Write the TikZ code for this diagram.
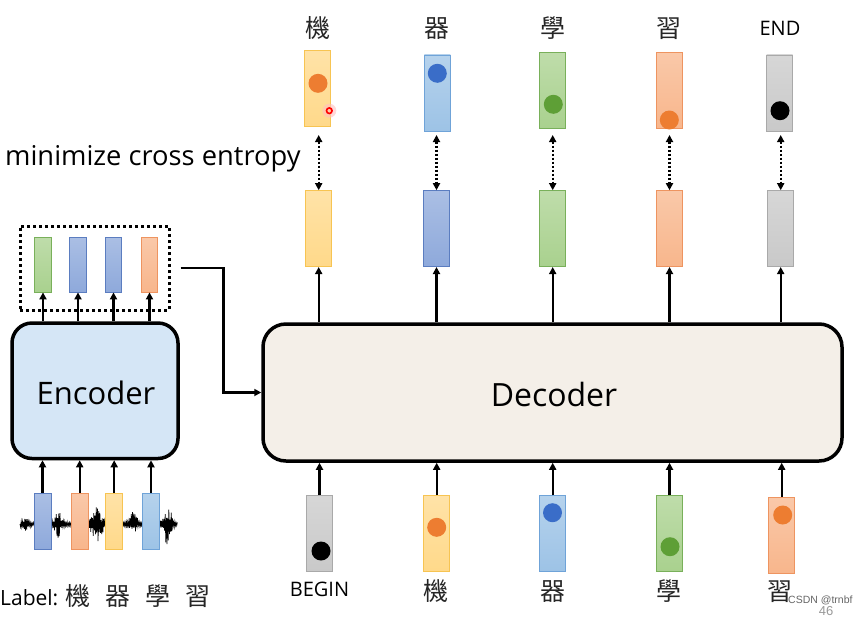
\documentclass[tikz,border=0pt]{standalone}
\usepackage{fontspec}
\setmainfont{Open Sans}
\newfontfamily\cjk{Noto Sans CJK TC}
\newfontfamily\wmfont{Liberation Sans}
\usetikzlibrary{arrows.meta}
\definecolor{yelF}{HTML}{FFD98A}\definecolor{yelD}{HTML}{F7C452}
\definecolor{lbF}{HTML}{9DC3E6}\definecolor{lbD}{HTML}{6FA3D8}
\definecolor{dbF}{HTML}{8EA9DB}\definecolor{dbD}{HTML}{5B7DC0}
\definecolor{grF}{HTML}{A9D18E}\definecolor{grD}{HTML}{79B05A}
\definecolor{orF}{HTML}{F8B68C}\definecolor{orD}{HTML}{EE9460}
\definecolor{gyF}{HTML}{C9C9C9}\definecolor{gyD}{HTML}{A9A9A9}
\definecolor{dOr}{HTML}{ED7D31}\definecolor{dBl}{HTML}{3A6DC8}
\definecolor{dGr}{HTML}{5E9F36}
\definecolor{encF}{HTML}{D5E6F6}\definecolor{decF}{HTML}{F4EFE8}
\begin{document}
\begin{tikzpicture}[x=1pt,y=-1pt,
  vbox/.style={draw, line width=0.8pt, minimum width=26pt, minimum height=76pt, inner sep=0pt},
  ebox/.style={vbox, minimum width=17pt, minimum height=56pt},
  yel/.style={draw=yelD, top color=yelF!75!white, bottom color=yelF},
  lb/.style={draw=lbD, top color=lbF!75!white, bottom color=lbF},
  db/.style={draw=dbD, top color=dbF!75!white, bottom color=dbF},
  gr/.style={draw=grD, top color=grF!75!white, bottom color=grF},
  orn/.style={draw=orD, top color=orF!75!white, bottom color=orF},
  gy/.style={draw=gyD, top color=gyF!75!white, bottom color=gyF},
  arr/.style={line width=2.4pt, -{Triangle[length=7pt,width=7pt]}},
  dbl/.style={line width=2.4pt, dash pattern=on 2pt off 2pt, {Triangle[length=7pt,width=7pt]}-{Triangle[length=7pt,width=7pt]}},
  big/.style={draw=black, line width=3.5pt, inner sep=0pt},
  lab/.style={font=\fontsize{20}{20}\selectfont, anchor=base, inner sep=0pt},
  clab/.style={font=\cjk\fontsize{25}{25}\selectfont, anchor=base, inner sep=0pt, text=black!85},
  declare function={env(\x)=2.5+5*max(0,1-abs(\x-26)/6)+12*max(0,1-abs(\x-58)/7)+19*max(0,1-abs(\x-97)/9)+10*max(0,1-abs(\x-133)/7)+19*max(0,1-abs(\x-167)/8);}
]
\useasboundingbox (0,0) rectangle (867,619);
\fill[white] (0,0) rectangle (867,619);

% ---------- waveform ----------
\pgfmathsetseed{11}
\draw[black, line width=0.7pt] (20,524) \foreach \i in {1,...,260}{ -- ({20+0.605*\i},{524+(2*mod(\i,2)-1)*(0.3+0.7*rnd)*env(20+0.605*\i)}) };

% ---------- encoder ----------
\node[big, fill=encF, rounded corners=20pt, minimum width=166pt, minimum height=135.5pt] (enc) at (95,390.75) {};
\node[font=\fontsize{31}{31}\selectfont, anchor=base] (enctxt) at (96,404) {Encoder};

\node[ebox, db] (n1) at (42.5,521.2) {};
\node[ebox, orn] (n2) at (79.7,521.2) {};
\node[ebox, yel] (n3) at (114.2,521.2) {};
\node[ebox, lb] (n4) at (151,521.2) {};
\foreach \k in {1,...,4}{ \draw[arr] (n\k.north) -- (n\k.north |- enc.south); }

\node[ebox, gr, minimum width=16.5pt, minimum height=55pt] (e1) at (43,264.5) {};
\node[ebox, db, minimum width=16.5pt, minimum height=55pt] (e2) at (78,264.5) {};
\node[ebox, db, minimum width=16.5pt, minimum height=55pt] (e3) at (113.5,264.5) {};
\node[ebox, orn, minimum width=16.5pt, minimum height=55pt] (e4) at (149.5,264.5) {};
\foreach \k in {1,...,4}{ \draw[arr] (e\k.south |- enc.north) -- (e\k.south); }

\node[draw=black, line width=3pt, dash pattern=on 3pt off 3pt, minimum width=149pt, minimum height=84pt, inner sep=0pt] (dbox) at (94.5,268) {};

% ---------- decoder ----------
\node[big, fill=decF, rounded corners=23pt, minimum width=579pt, minimum height=137pt] (dec) at (552.5,392.5) {};
\node[font=\fontsize{32}{32}\selectfont, anchor=base] (dectxt) at (554,406) {Decoder};

\draw[arr] ([xshift=10pt]dbox.east) -- ++(43,0) coordinate (bend) |- (dec.west);

% ---------- decoder outputs ----------
\node[vbox, yel] (o1) at (318.7,228.6) {};
\node[vbox, db]  (o2) at (436.5,228.6) {};
\node[vbox, gr]  (o3) at (552.7,228.6) {};
\node[vbox, orn] (o4) at (669.5,228.6) {};
\node[vbox, gy]  (o5) at (780.7,228.6) {};
\foreach \k in {1,...,5}{ \draw[arr] (o\k.south |- dec.north) -- (o\k.south); }

% ---------- targets ----------
\node[vbox, yel] (p1) at (317.5,88.7) {};
\node[vbox, lb]  (p2) at (437.3,92.9) {};
\node[vbox, gr]  (p3) at (552.7,90.5) {};
\node[vbox, orn] (p4) at (669.5,90.3) {};
\node[vbox, gy]  (p5) at (779.7,92.9) {};
\fill[dOr] (318,83.3) circle (9.5);
\fill[dBl] (437.3,73.3) circle (9.5);
\fill[dGr] (553.3,104.3) circle (9.5);
\fill[dOr] (669.3,120) circle (9.5);
\fill[black] (780,110.7) circle (9.5);
\foreach \k in {1,...,5}{ \draw[dbl] (o\k.north |- 0,135) -- (o\k.north); }

% cursor mark
\fill[red!25, opacity=0.6] (329.3,110.7) circle (7);
\draw[red, line width=1.6pt] (329.3,110.7) circle (2.8);

\node[clab] (t1) at (318,37) {機};
\node[clab] (t2) at (437,37) {器};
\node[clab] (t3) at (553,37) {學};
\node[clab] (t4) at (669,37) {習};
\node[lab] (t5) at (780,35) {END};

\node[font=\fontsize{27.3}{27.3}\selectfont, anchor=base west, inner sep=0pt] (mce) at (5,165) {minimize cross entropy};

% ---------- decoder inputs ----------
\node[vbox, gy]  (i1) at (319.5,533.5) {};
\node[vbox, yel] (i2) at (436.7,533.5) {};
\node[vbox, lb]  (i3) at (552.7,533.5) {};
\node[vbox, gr]  (i4) at (669.5,533.5) {};
\node[vbox, orn] (i5) at (781.7,535.3) {};
\fill[black] (321,551) circle (9.5);
\fill[dOr] (436.7,527.3) circle (9.5);
\fill[dBl] (552.5,512.7) circle (9.5);
\fill[dGr] (670,546.7) circle (9.5);
\fill[dOr] (782.7,515) circle (9.5);
\foreach \k in {1,...,5}{ \draw[arr] (i\k.north) -- (i\k.north |- dec.south); }

\node[lab] (b1) at (319.5,596.7) {BEGIN};
\node[clab] (b2) at (436,600) {機};
\node[clab] (b3) at (553,600) {器};
\node[clab] (b4) at (669,600) {學};
\node[clab] (b5) at (780,600) {習};

\node[anchor=base west, inner sep=0pt] (lbl) at (0,605) {\fontsize{21}{21}\selectfont Label: {\cjk\fontsize{25}{25}\selectfont\color{black!85}機\hspace{15pt}器\hspace{15pt}學\hspace{15pt}習}};

% watermark
\node[font=\wmfont\fontsize{13}{13}\selectfont, text=black!40, anchor=base, inner sep=0pt] (pg) at (826,615) {46};
\node[font=\wmfont\fontsize{10.5}{10.5}\selectfont, text=black!60, anchor=base west, inner sep=0pt] (wm) at (788,603) {CSDN @trnbf};
\end{tikzpicture}
\end{document}
